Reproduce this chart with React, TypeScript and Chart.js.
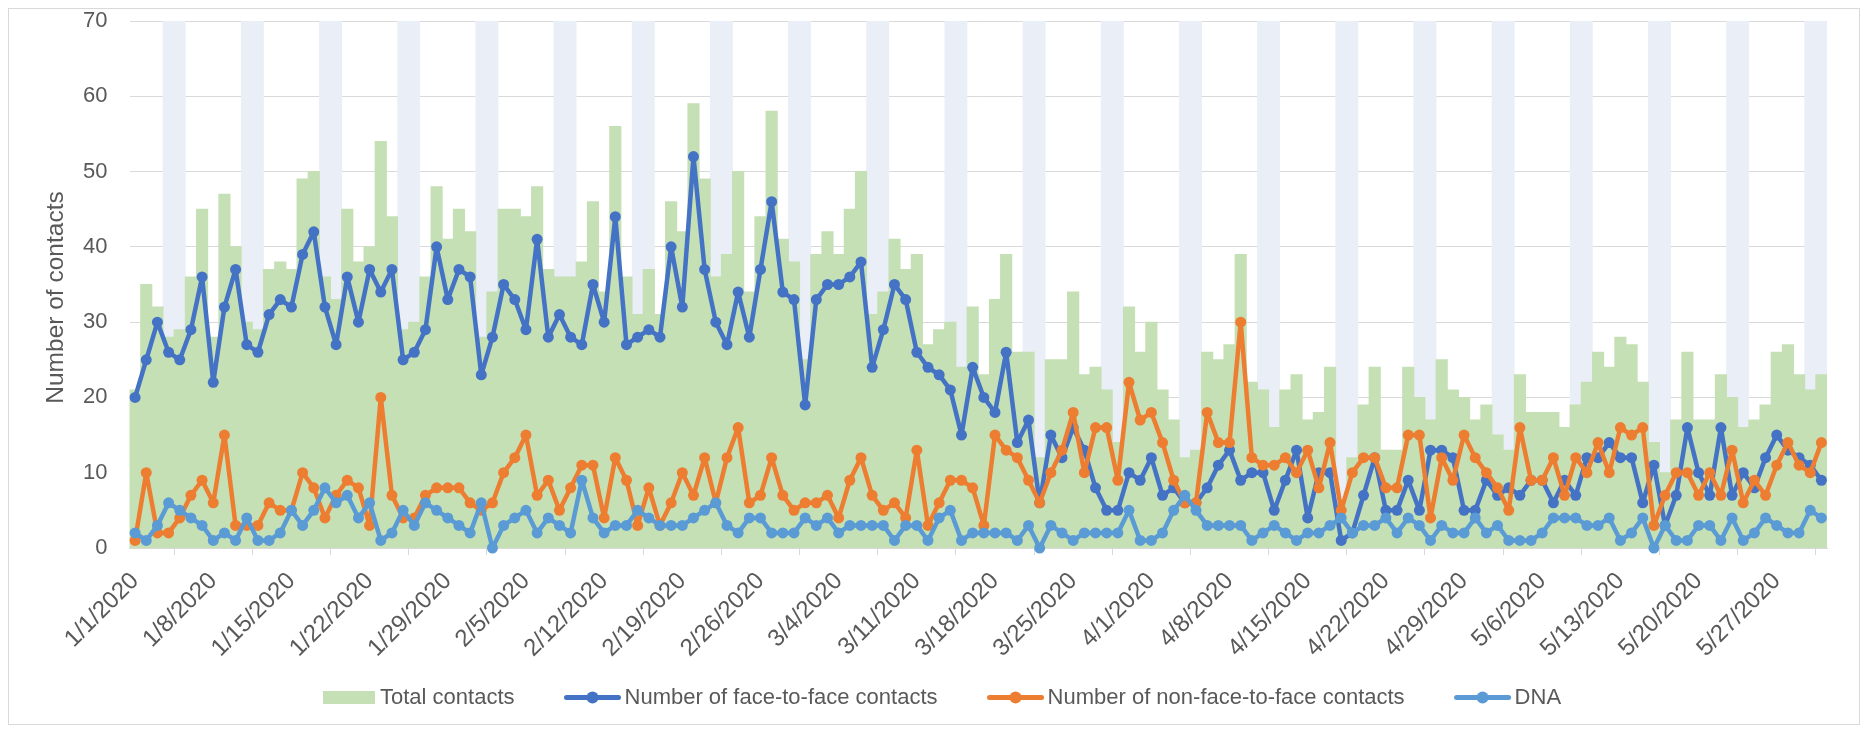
import React, { useEffect, useRef } from "react";
import { Chart, registerables } from "chart.js";

Chart.register(...registerables);

const FONT_FAMILY = '"Liberation Sans", Arial, sans-serif';
const TEXT_COLOR = "#595959";
const GRID_COLOR = "#D9D9D9";

// ---- categories: one per day, 1/1/2020 .. 5/31/2020 ----
const FIRST_DAY = new Date(2020, 0, 1);
const DAY_COUNT = 152;
const dayDates: Date[] = Array.from(
  { length: DAY_COUNT },
  (_, i) => new Date(FIRST_DAY.getFullYear(), FIRST_DAY.getMonth(), FIRST_DAY.getDate() + i)
);
const categories: string[] = dayDates.map(
  (d) => `${d.getMonth() + 1}/${d.getDate()}/${d.getFullYear()}`
);
const TICK_EVERY = 7;

// ---- y axis ----
const Y_MIN = 0;
const Y_MAX = 70;
const Y_STEP = 10;
const Y_TITLE = "Number of contacts";

// ---- series ----
const totalContacts = [
  21, 35, 32, 28, 29, 36, 45, 28, 47, 40, 30, 29, 37, 38, 37, 49, 50, 36, 33, 45, 38, 40, 54, 44,
  29, 30, 36, 48, 41, 45, 42, 28, 34, 45, 45, 44, 48, 37, 36, 36, 38, 46, 34, 56, 36, 31, 37, 31, 46, 42,
  59, 49, 36, 39, 50, 34, 44, 58, 41, 38, 25, 39, 42, 39, 45, 50, 31, 34, 41, 37, 39, 27, 29, 30, 24, 32,
  23, 33, 39, 26, 26, 12, 25, 25, 34, 23, 24, 21, 14, 32, 26, 30, 21, 17, 12, 13, 26, 25, 27, 39, 22, 21,
  16, 21, 23, 17, 18, 24, 6, 12, 19, 24, 13, 13, 24, 20, 17, 25, 21, 20, 17, 19, 15, 13, 23, 18, 18, 18,
  16, 19, 22, 26, 24, 28, 27, 22, 14, 10, 17, 26, 17, 17, 23, 20, 16, 17, 19, 26, 27, 23, 21, 23,
];

const faceToFace = [
  20, 25, 30, 26, 25, 29, 36, 22, 32, 37, 27, 26, 31, 33, 32, 39, 42, 32, 27, 36, 30, 37, 34, 37,
  25, 26, 29, 40, 33, 37, 36, 23, 28, 35, 33, 29, 41, 28, 31, 28, 27, 35, 30, 44, 27, 28, 29, 28, 40, 32,
  52, 37, 30, 27, 34, 28, 37, 46, 34, 33, 19, 33, 35, 35, 36, 38, 24, 29, 35, 33, 26, 24, 23, 21, 15, 24,
  20, 18, 26, 14, 17, 6, 15, 12, 16, 13, 8, 5, 5, 10, 9, 12, 7, 8, 6, 6, 8, 11, 13, 9, 10, 10,
  5, 9, 13, 4, 10, 10, 1, 2, 7, 12, 5, 5, 9, 5, 13, 13, 12, 5, 5, 9, 7, 8, 7, 9, 9, 6,
  9, 7, 12, 12, 14, 12, 12, 6, 11, 3, 7, 16, 10, 7, 16, 7, 10, 8, 12, 15, 13, 12, 11, 9,
];

const nonFaceToFace = [
  1, 10, 2, 2, 4, 7, 9, 6, 15, 3, 3, 3, 6, 5, 5, 10, 8, 4, 7, 9, 8, 3, 20, 7,
  4, 4, 7, 8, 8, 8, 6, 5, 6, 10, 12, 15, 7, 9, 5, 8, 11, 11, 4, 12, 9, 3, 8, 3, 6, 10,
  7, 12, 6, 12, 16, 6, 7, 12, 7, 5, 6, 6, 7, 4, 9, 12, 7, 5, 6, 4, 13, 3, 6, 9, 9, 8,
  3, 15, 13, 12, 9, 6, 10, 13, 18, 10, 16, 16, 9, 22, 17, 18, 14, 9, 6, 6, 18, 14, 14, 30, 12, 11,
  11, 12, 10, 13, 8, 14, 5, 10, 12, 12, 8, 8, 15, 15, 4, 12, 9, 15, 12, 10, 8, 5, 16, 9, 9, 12,
  7, 12, 10, 14, 10, 16, 15, 16, 3, 7, 10, 10, 7, 10, 7, 13, 6, 9, 7, 11, 14, 11, 10, 14,
];

const dna = [
  2, 1, 3, 6, 5, 4, 3, 1, 2, 1, 4, 1, 1, 2, 5, 3, 5, 8, 6, 7, 4, 6, 1, 2,
  5, 3, 6, 5, 4, 3, 2, 6, 0, 3, 4, 5, 2, 4, 3, 2, 9, 4, 2, 3, 3, 5, 4, 3, 3,
  3, 4, 5, 6, 3, 2, 4, 4, 2, 2, 2, 4, 3, 4, 2, 3, 3, 3, 3, 1, 3, 3, 1, 4, 5, 1, 2,
  2, 2, 2, 1, 3, 0, 3, 2, 1, 2, 2, 2, 2, 5, 1, 1, 2, 5, 7, 5, 3, 3, 3, 3, 1, 2,
  3, 2, 1, 2, 2, 3, 4, 2, 3, 3, 4, 2, 4, 3, 1, 3, 2, 2, 4, 2, 3, 1, 1, 1, 2, 4,
  4, 4, 3, 3, 4, 1, 2, 4, 0, 3, 1, 1, 3, 3, 1, 4, 1, 2, 4, 3, 2, 2, 5, 4,
];

// weekend background bands (Saturday / Sunday span the full axis height)
const weekendBand = dayDates.map((d) => (d.getDay() === 0 || d.getDay() === 6 ? Y_MAX : null));

const seriesNames = [
  "Total contacts",
  "Number of face-to-face contacts",
  "Number of non-face-to-face contacts",
  "DNA",
];
const COLORS = {
  band: "#E9EEF7",
  total: "#C5E0B4",
  f2f: "#4472C4",
  nonf2f: "#ED7D31",
  dna: "#5B9BD5",
};

const legendItems = [
  { label: seriesNames[0], color: COLORS.total, kind: "box" },
  { label: seriesNames[1], color: COLORS.f2f, kind: "line" },
  { label: seriesNames[2], color: COLORS.nonf2f, kind: "line" },
  { label: seriesNames[3], color: COLORS.dna, kind: "line" },
];

const excelLegend = {
  id: "excelLegend",
  afterDraw(chart: any) {
    const ctx: CanvasRenderingContext2D = chart.ctx;
    ctx.save();
    ctx.font = `22px ${FONT_FAMILY}`;
    ctx.textBaseline = "middle";
    ctx.textAlign = "left";
    let x = 314;
    const y = 688.5;
    for (const item of legendItems) {
      if (item.kind === "box") {
        ctx.fillStyle = item.color;
        ctx.fillRect(x, y - 6.5, 52, 13);
        x += 52 + 5;
      } else {
        ctx.strokeStyle = item.color;
        ctx.lineWidth = 5;
        ctx.lineCap = "round";
        ctx.beginPath();
        ctx.moveTo(x + 2, y);
        ctx.lineTo(x + 54, y);
        ctx.stroke();
        ctx.fillStyle = item.color;
        ctx.beginPath();
        ctx.arc(x + 28, y, 6, 0, Math.PI * 2);
        ctx.fill();
        x += 56 + 4;
      }
      ctx.fillStyle = TEXT_COLOR;
      ctx.fillText(item.label, x, y);
      x += ctx.measureText(item.label).width + 50;
    }
    ctx.restore();
  },
};

// y-axis title drawn slightly below the axis centre, as in the reference
const yTitlePlugin = {
  id: "yTitle",
  afterDraw(chart: any) {
    const ctx: CanvasRenderingContext2D = chart.ctx;
    const area = chart.chartArea;
    ctx.save();
    ctx.font = `24.5px ${FONT_FAMILY}`;
    ctx.fillStyle = TEXT_COLOR;
    ctx.textAlign = "center";
    ctx.textBaseline = "middle";
    ctx.translate(47, (area.top + area.bottom) / 2 + 13);
    ctx.rotate(-Math.PI / 2);
    ctx.fillText(Y_TITLE, 0, 0);
    ctx.restore();
  },
};

const lineDataset = (label: string, data: number[], color: string, order: number) => ({
  type: "line" as const,
  label,
  data,
  order,
  borderColor: color,
  backgroundColor: color,
  borderWidth: 4.5,
  borderJoinStyle: "round" as const,
  borderCapStyle: "round" as const,
  pointRadius: 5.5,
  pointHoverRadius: 5.5,
  pointBorderWidth: 0,
  pointBackgroundColor: color,
  pointStyle: "circle" as const,
  tension: 0,
  clip: false as const,
});

export default function App() {
  const canvasRef = useRef<HTMLCanvasElement | null>(null);

  useEffect(() => {
    if (!canvasRef.current) return;
    const chart = new Chart(canvasRef.current, {
      type: "bar",
      data: {
        labels: categories,
        datasets: [
          lineDataset(seriesNames[3], dna, COLORS.dna, 1),
          lineDataset(seriesNames[2], nonFaceToFace, COLORS.nonf2f, 2),
          lineDataset(seriesNames[1], faceToFace, COLORS.f2f, 3),
          {
            type: "bar",
            label: seriesNames[0],
            data: totalContacts,
            order: 4,
            backgroundColor: COLORS.total,
            borderWidth: 0,
            barPercentage: 1,
            categoryPercentage: 1,
            grouped: false,
            inflateAmount: 0.5,
          } as any,
          {
            type: "bar",
            label: "weekend",
            data: weekendBand,
            order: 5,
            backgroundColor: COLORS.band,
            borderWidth: 0,
            barPercentage: 1,
            categoryPercentage: 1,
            grouped: false,
            inflateAmount: 0.3,
          } as any,
        ],
      },
      options: {
        responsive: false,
        animation: false,
        devicePixelRatio: 1,
        events: [],
        layout: { padding: { top: 12, right: 32, bottom: 60, left: 0 } },
        plugins: {
          legend: { display: false },
          tooltip: { enabled: false },
          title: { display: false },
        },
        scales: {
          x: {
            type: "category",
            offset: true,
            grid: {
              offset: true,
              display: true,
              drawOnChartArea: false,
              drawTicks: true,
              tickLength: 7,
              color: GRID_COLOR,
              lineWidth: 1,
            },
            border: { display: true, color: GRID_COLOR, width: 1 },
            ticks: {
              autoSkip: false,
              maxRotation: 45,
              minRotation: 45,
              padding: 12,
              color: TEXT_COLOR,
              font: { family: FONT_FAMILY, size: 24 },
              callback: (_v: any, idx: number) =>
                idx % TICK_EVERY === 0 ? categories[idx] : null,
            },
            afterFit: (scale: any) => {
              scale.height = 116;
            },
          },
          y: {
            min: Y_MIN,
            max: Y_MAX,
            border: { display: false },
            grid: { color: GRID_COLOR, lineWidth: 1, drawTicks: false },
            ticks: {
              stepSize: Y_STEP,
              padding: 22,
              color: TEXT_COLOR,
              font: { family: FONT_FAMILY, size: 22 },
            },
            title: { display: false },
            afterFit: (scale: any) => {
              scale.width = 120.5;
              scale.paddingTop = 12;
              scale.paddingBottom = 12;
            },
          },
        },
      },
      plugins: [excelLegend, yTitlePlugin],
    } as any);
    return () => chart.destroy();
  }, []);

  return (
    <div
      style={{
        width: 1852,
        height: 717,
        border: `1px solid ${GRID_COLOR}`,
        boxSizing: "border-box",
        background: "#ffffff",
      }}
    >
      <canvas ref={canvasRef} width={1850} height={715} style={{ display: "block" }} />
    </div>
  );
}
